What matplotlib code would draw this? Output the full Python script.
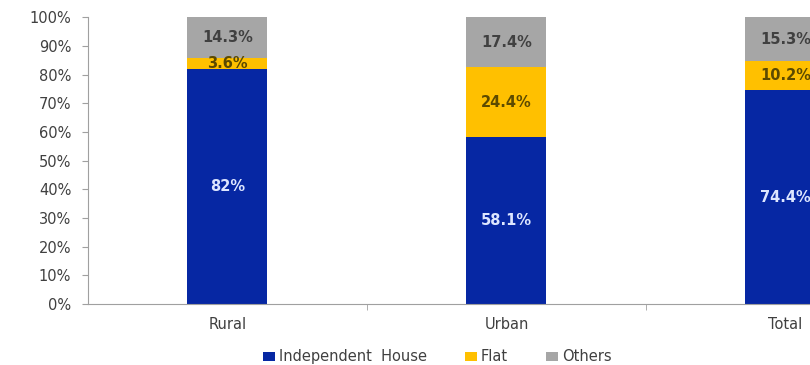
import numpy as np
import matplotlib.pyplot as plt

# share of households by type of house
areas = ['Rural', 'Urban', 'Total']
independent = [82, 58.1, 74.4]
flat = [3.6, 24.4, 10.2]
others = [14.3, 17.4, 15.3]

series = [('Independent  House', independent, '#0627A3', '#DDE6FF'),
          ('Flat', flat, '#FFC000', '#5C4A00'),
          ('Others', others, '#A6A6A6', '#404040')]

plt.rcParams['font.family'] = ['DejaVu Sans']
fig = plt.figure(figsize=(8.1, 3.65), dpi=100)
# the last column runs past the right edge of the figure
ax = fig.add_axes([0.1086, 0.167, 1.0333, 0.786])

x = np.arange(len(areas))
totals = np.array(independent) + np.array(flat) + np.array(others)
bottom = np.zeros(len(areas))
for name, vals, col, txtcol in series:
    # 100% stacked columns
    h = np.array(vals) / totals * 100
    ax.bar(x, h, 0.287, bottom=bottom, color=col, label=name, edgecolor='none')
    for xi, b, hh, v in zip(x, bottom, h, vals):
        ax.text(xi, b + hh / 2, f'{v:g}%', ha='center', va='center',
                fontsize=10.5, fontweight='bold', color=txtcol)
    bottom += h

ax.set_xlim(-0.5, 2.5)
ax.set_ylim(0, 100)
ax.set_yticks(range(0, 101, 10))
ax.set_yticklabels([f'{t}%' for t in range(0, 101, 10)])
ax.set_xticks(x)
ax.set_xticklabels(areas)
ax.set_xticks([0.5, 1.5], minor=True)
ax.tick_params(axis='x', which='major', length=0, pad=9, labelsize=10.5, colors='#404040')
ax.tick_params(axis='x', which='minor', length=4, color='#A0A0A0')
ax.tick_params(axis='y', length=4, color='#A0A0A0', labelsize=10.5, labelcolor='#404040', pad=8)
for s in ['top', 'right']:
    ax.spines[s].set_visible(False)
for s in ['left', 'bottom']:
    ax.spines[s].set_color('#A0A0A0')

fig.legend(loc='center', bbox_to_anchor=(0.54, 0.022), ncol=3, frameon=False,
           fontsize=10.5, handlelength=0.8, handleheight=0.6, handletextpad=0.3,
           columnspacing=2.6, labelcolor='#404040')

fig.savefig('out.png', dpi=100)
